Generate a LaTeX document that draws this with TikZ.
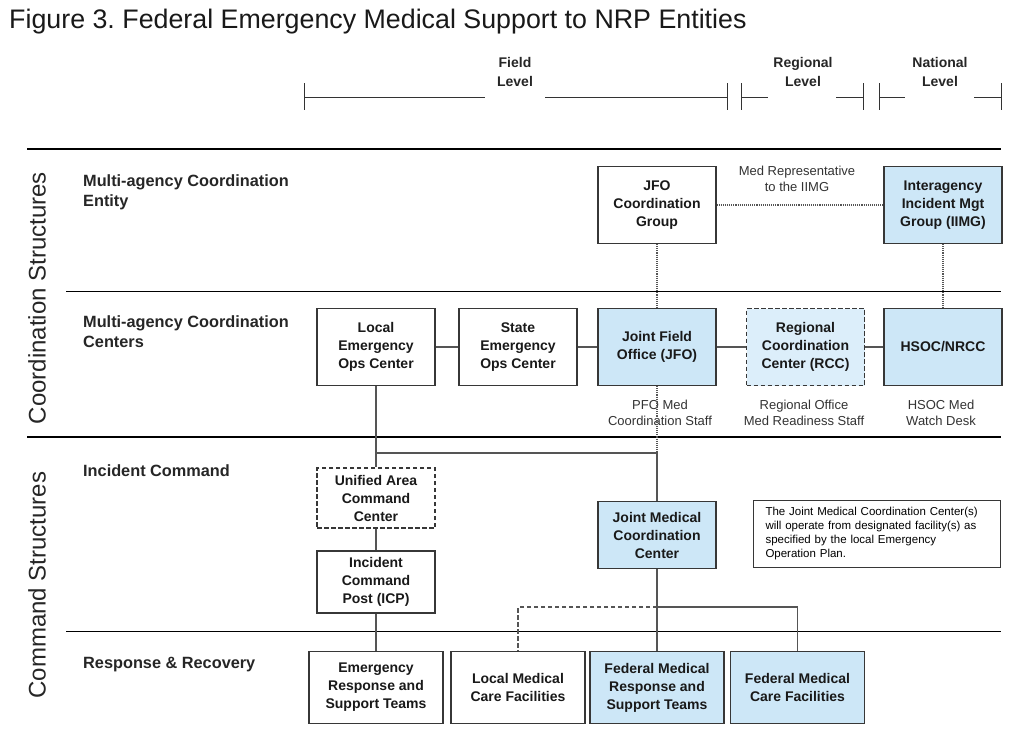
\documentclass[tikz,border=0pt]{standalone}
\usepackage{fontspec}
\setmainfont{Liberation Sans}
\usetikzlibrary{calc}
\frenchspacing

\definecolor{medblue}{RGB}{205,231,247}
\definecolor{rccblue}{RGB}{220,238,250}
\definecolor{boxline}{RGB}{55,55,55}
\definecolor{linkgray}{RGB}{85,85,85}

\tikzset{
  unit/.style={draw=boxline, line width=1.1pt, fill=white, align=center, inner sep=1pt,
    minimum width=118pt, minimum height=77pt, font=\fontsize{14}{18}\selectfont\bfseries, text=black!90},
  fed/.style={unit, fill=medblue},
  dashbox/.style={dash pattern=on 4.5pt off 2.5pt},
  link/.style={draw=linkgray, line width=1.1pt},
  dotlink/.style={link, densely dotted},
  dashlink/.style={link, dash pattern=on 4.5pt off 2.5pt},
  rowlabel/.style={anchor=north west, inner sep=0pt, align=left, text=black!85,
    font=\fontsize{16.3}{20}\selectfont\bfseries},
  lvl/.style={align=center, inner sep=0pt, font=\fontsize{14}{19}\selectfont\bfseries, text=black!85},
  staff/.style={align=center, inner sep=0pt, font=\fontsize{13}{16}\selectfont, text=black!80},
}

\begin{document}
\begin{tikzpicture}[x=1pt,y=-1pt]

% Page frame
\fill[white] (0,0) rectangle (1024,729);
\useasboundingbox (0,0) rectangle (1024,729);

% Title
\node[anchor=base west, inner sep=0pt, font=\fontsize{26.8}{30}\selectfont, text=black!90] (title) at (9,28)
  {Figure 3. Federal Emergency Medical Support to NRP Entities};

% Level scale
\foreach \x in {304,727,741,863,879,1001}
  \draw[line width=1pt, black!80] (\x,83) -- (\x,110);
\foreach \a/\b in {304/485,545/727,741/768,836/863,879/905,974/1001}
  \draw[line width=1pt, black!80] (\a,97) -- (\b,97);
\node[lvl] (field) at (515,72) {Field\\Level};
\node[lvl] (regional) at (803,72) {Regional\\Level};
\node[lvl] (national) at (940,72) {National\\Level};

% Band dividers
\draw[line width=2.2pt] (27,149) -- (1001,149);
\draw[line width=1pt] (66,291) -- (1001,291);
\draw[line width=2.2pt] (27,437) -- (1001,437);
\draw[line width=1pt] (66,631) -- (1001,631);

% Band labels
\node[rotate=90, inner sep=0pt, font=\fontsize{24}{28}\selectfont, text=black!85] (coordband) at (37,298) {Coordination Structures};
\node[rotate=90, inner sep=0pt, font=\fontsize{24}{28}\selectfont, text=black!85] (cmdband) at (37,585) {Command Structures};

\node[rowlabel] (entityrow) at (83,174) {Multi-agency Coordination\\Entity};
\node[rowlabel] (centersrow) at (83,315) {Multi-agency Coordination\\Centers};
\node[rowlabel] (icrow) at (83,464) {Incident Command};
\node[rowlabel] (rrrow) at (83,657) {Response \& Recovery};

% Coordination entity row
\node[unit] (jfocg) at (657,205) {JFO\\Coordination\\Group};
\node[fed] (iimg) at (943,205) {Interagency\\Incident Mgt\\Group (IIMG)};
\node[staff] (medrep) at (797,179) {Med Representative\\to the IIMG};

% Coordination centers row
\node[unit] (leoc) at (376,347) {Local\\Emergency\\Ops Center};
\node[unit] (seoc) at (518,347) {State\\Emergency\\Ops Center};
\node[fed] (jfo) at (657,347) {Joint Field\\Office (JFO)};
\node[fed, fill=rccblue, dashbox] (rcc) at (805.5,347) {Regional\\Coordination\\Center (RCC)};
\node[fed] (hsoc) at (943,347) {HSOC/NRCC};

\node[staff] (pfo) at (660,413) {PFO Med\\Coordination Staff};
\node[staff] (regoff) at (804,413) {Regional Office\\Med Readiness Staff};
\node[staff] (watch) at (941,413) {HSOC Med\\Watch Desk};

% Incident command row
\node[unit, dashbox, minimum height=60pt] (uacc) at (376,498) {Unified Area\\Command\\Center};
\node[unit, minimum height=62pt] (icp) at (376,582) {Incident\\Command\\Post (ICP)};
\node[fed, minimum height=67pt] (jmcc) at (657,535) {Joint Medical\\Coordination\\Center};
\node[draw=boxline, line width=0.9pt, minimum width=247pt, minimum height=67pt, inner sep=0pt,
  text width=222pt, align=left, font=\fontsize{11.5}{14.2}\selectfont] (note) at (876.5,533.5)
  {The Joint Medical Coordination Center(s)\\will operate from designated facility(s) as\\specified by the local Emergency\\Operation Plan.};

% Response and recovery row
\node[unit, minimum width=134pt, minimum height=72pt] (erst) at (376,687.5) {Emergency\\Response and\\Support Teams};
\node[unit, minimum width=134pt, minimum height=72pt] (lmcf) at (518,687.5) {Local Medical\\Care Facilities};
\node[fed, minimum width=134pt, minimum height=72pt] (fmrst) at (657,687.5) {Federal Medical\\Response and\\Support Teams};
\node[fed, minimum width=134pt, minimum height=72pt] (fmcf) at (797.5,687.5) {Federal Medical\\Care Facilities};

% Connectors
\coordinate (jct) at (657,453);
\coordinate (split) at (657,607);

\draw[dotlink] (jfocg) -- (iimg);
\draw[dotlink] (jfocg) -- (jfo);
\draw[dotlink] (iimg) -- (hsoc);
\draw[dotlink] (jfo) -- (jct);

\draw[link] (leoc) -- (seoc);
\draw[link] (seoc) -- (jfo);
\draw[link] (jfo) -- (rcc);
\draw[link] (rcc) -- (hsoc);

\draw[link] (leoc) -- (uacc);
\draw[link] (leoc.south |- jct) -- (jct) -- (jmcc);
\draw[link] (uacc) -- (icp);
\draw[link] (icp) -- (erst);
\draw[link] (jmcc) -- (fmrst);
\draw[dashlink] (split) -| (lmcf.north);
\draw[link] (split) -| (fmcf.north);

\end{tikzpicture}
\end{document}
